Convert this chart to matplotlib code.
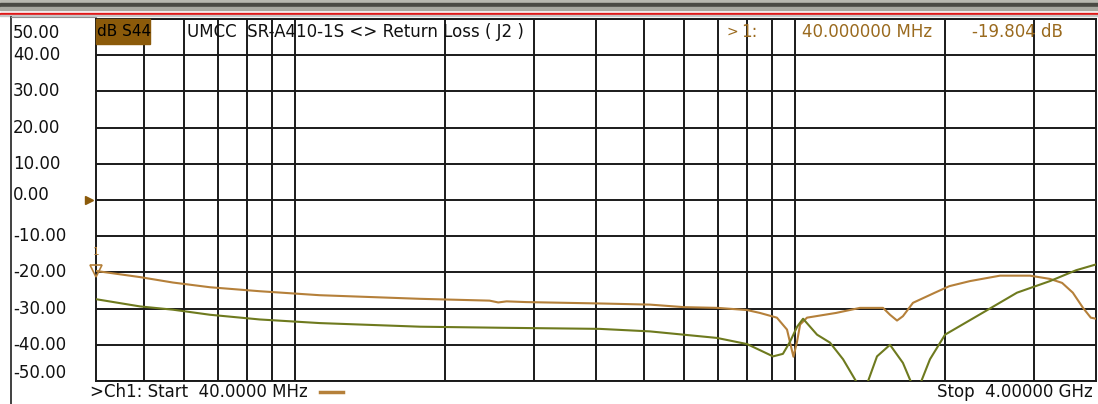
import matplotlib
matplotlib.use("Agg")
import matplotlib.pyplot as plt
import matplotlib.transforms as mtransforms
from matplotlib.patches import Rectangle

# S44 trace (MHz, dB)
s44_freq = [40, 49, 57, 67.6, 85, 112, 178, 245, 255, 265, 290, 413, 513, 600, 700,
            802, 851, 920, 964, 982, 993, 1010, 1024, 1057, 1208, 1349, 1500, 1549,
            1600, 1644, 1722, 1905, 2036, 2239, 2571, 2952, 3236, 3422, 3595, 3768,
            3905, 4000]
s44_db = [-19.6, -21.3, -22.8, -24.1, -25.2, -26.3, -27.3, -27.8, -28.3, -28.0, -28.2,
          -28.6, -28.9, -29.6, -29.8, -30.4, -31.2, -32.5, -35.8, -40.5, -43.3, -39.0,
          -34.4, -32.5, -31.2, -29.8, -29.8, -31.7, -33.3, -32.1, -28.4, -25.6, -23.8,
          -22.4, -20.9, -20.9, -21.8, -22.9, -25.6, -29.8, -32.5, -32.8]

# second (olive) trace
mem_freq = [40, 49, 57, 67.6, 85, 112, 178, 261, 407, 513, 698, 802, 904, 946, 977,
            1010, 1038, 1107, 1175, 1248, 1337, 1392, 1459, 1549, 1644, 1715, 1778,
            1862, 1996, 2377, 2780, 3236, 3650, 4000]
mem_db = [-27.4, -29.4, -30.3, -31.7, -33.0, -34.0, -35.0, -35.3, -35.6, -36.3, -38.1,
          -39.8, -43.2, -42.5, -39.2, -35.0, -32.8, -37.2, -39.4, -44.0, -51.0, -51.0,
          -43.2, -40.0, -45.0, -51.0, -51.0, -44.0, -37.2, -31.1, -25.6, -22.4, -19.4,
          -17.8]

y_ticks = [50, 40, 30, 20, 10, 0, -10, -20, -30, -40, -50]
y_labels = ["50.00", "40.00", "30.00", "20.00", "10.00", "0.00",
            "-10.00", "-20.00", "-30.00", "-40.00", "-50.00"]
x_grid = [50, 60, 70, 80, 90, 100, 200, 300, 400, 500, 600, 700, 800, 900,
          1000, 2000, 3000]

ORANGE = "#b5803a"
OLIVE = "#6e7a1e"
MARK = "#9a6a1e"
FS = 12

W, H = 1098, 404
fig = plt.figure(figsize=(W / 100, H / 100), dpi=100)
fig.patch.set_facecolor("white")

# window chrome in pixel coords
bg = fig.add_axes([0, 0, 1, 1])
bg.set_xlim(0, W)
bg.set_ylim(H, 0)
bg.axis("off")
bg.add_patch(Rectangle((0, 0), W, 3, color="#b8b8b0"))
bg.add_patch(Rectangle((0, 3), W, 4, color="#4a4a44"))
bg.add_patch(Rectangle((0, 7), W, 3, color="#a8a8a0"))
bg.add_patch(Rectangle((0, 12.5), W, 2, color="#e01818"))
bg.add_patch(Rectangle((0, 14.5), W, 1.5, color="#c8c8c8"))
bg.plot([11, 11], [17, H], color="#202020", lw=1.2)
bg.plot([11, 96], [17, 17], color="#909090", lw=0.8)

ax = fig.add_axes([96 / W, 1 - 381 / H, 1000 / W, 362 / H])
ax.set_xscale("log")
ax.set_xlim(40, 4000)
ax.set_ylim(-50, 50)
ax.set_xticks(x_grid)
ax.set_xticks([], minor=True)
ax.set_yticks(y_ticks)
ax.tick_params(length=0, labelbottom=False, labelleft=False)
ax.grid(True, color="#1a1a1a", lw=1.4)
for s in ax.spines.values():
    s.set_color("#1a1a1a")
    s.set_linewidth(1.4)

ax.plot(s44_freq, s44_db, color=ORANGE, lw=1.5, zorder=3)
ax.plot(mem_freq, mem_db, color=OLIVE, lw=1.5, zorder=3)

# marker 1
ax.plot([40], [s44_db[0]], marker="v", ms=8, mfc="none", mec=ORANGE, mew=1.2,
        clip_on=False, zorder=4)
ax.annotate("1", (40, s44_db[0]), xytext=(0, 10), textcoords="offset points",
            ha="center", va="bottom", fontsize=7.5, color=ORANGE)

# reference level arrow
blend = mtransforms.blended_transform_factory(ax.transAxes, ax.transData)
ax.plot([-0.007], [0], marker=">", ms=6, color="#8b5a0a", transform=blend,
        clip_on=False)

# y labels
lab_tr = mtransforms.blended_transform_factory(fig.transFigure, ax.transData)
shift = {50: -14, 0: 5, -50: 8}
for v, t in zip(y_ticks, y_labels):
    ax.annotate(t, (13 / W, v), xycoords=lab_tr, xytext=(0, shift.get(v, 0) * 0.72),
                textcoords="offset points", ha="left", va="center",
                fontsize=FS, color="#111111", annotation_clip=False)

# header texts
ax.add_patch(Rectangle((0, 1 - 25 / 362), 54 / 1000, 25 / 362, transform=ax.transAxes,
                       color="#8b5a0a", zorder=5, clip_on=False))
ax.text(0.001, 1 - 12 / 362, "dB S44", transform=ax.transAxes, ha="left", va="center",
        fontsize=11, color="black", zorder=6)
ax.text(0.091, 1 - 13 / 362, "UMCC  SR-A410-1S <> Return Loss ( J2 )",
        transform=ax.transAxes, ha="left", va="center", fontsize=FS, color="#111111",
        zorder=6)
ax.text(0.631, 1 - 13 / 362, ">", transform=ax.transAxes, ha="left", va="center",
        fontsize=10, color=MARK, zorder=6)
ax.text(0.645, 1 - 13 / 362, "1:", transform=ax.transAxes, ha="left", va="center",
        fontsize=FS, color=MARK, zorder=6)
ax.text(0.706, 1 - 13 / 362, "40.000000 MHz", transform=ax.transAxes, ha="left",
        va="center", fontsize=FS, color=MARK, zorder=6)
ax.text(0.967, 1 - 13 / 362, "-19.804 dB", transform=ax.transAxes, ha="right",
        va="center", fontsize=FS, color=MARK, zorder=6)

# footer
bg.text(90, 392, ">Ch1: Start  40.0000 MHz", ha="left", va="center", fontsize=FS,
        color="#111111")
bg.plot([320, 343], [392, 392], color=ORANGE, lw=2.5)
bg.text(1093, 392, "Stop  4.00000 GHz", ha="right", va="center", fontsize=FS,
        color="#111111")

fig.savefig("out.png", dpi=100)
